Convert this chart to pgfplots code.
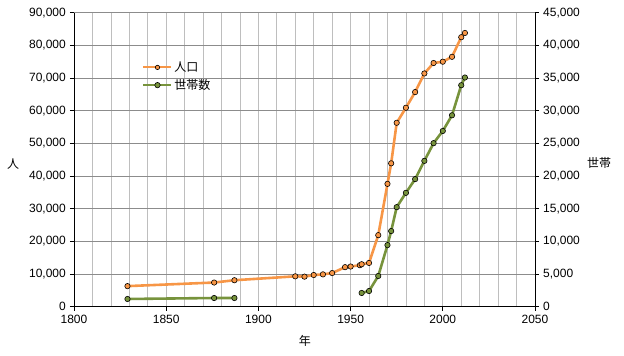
\documentclass[border=0pt]{standalone}
\usepackage{fontspec}
\setmainfont{Liberation Sans}
\newfontfamily\jp{Noto Sans CJK JP}
\usepackage{pgfplots}
\pgfplotsset{compat=1.18}
\definecolor{popc}{HTML}{F79646}
\definecolor{hhc}{HTML}{77933C}
\definecolor{hgrid}{HTML}{8C8C8C}
\definecolor{vgrid}{HTML}{BEBEBE}
\begin{document}
\fontsize{12bp}{14bp}\selectfont
\begin{tikzpicture}
\useasboundingbox (-74bp,-49.3bp) rectangle (550bp,306.7bp);
\pgfplotsset{
  common/.style={
    at={(0,0)}, anchor=south west, scale only axis,
    width=461bp, height=294bp,
    xmin=1800, xmax=2050,
    tick align=outside,
    major tick length=4bp, minor tick length=0pt,
    axis line style={-, black, line width=0.8bp},
    every tick/.style={black, line width=0.8bp},
    /pgf/number format/assume math mode=true,
    tick label style={font=\fontsize{12bp}{14bp}\selectfont},
    scaled ticks=false,
    yticklabel style={/pgf/number format/.cd, fixed, 1000 sep={,}},
    xticklabel style={/pgf/number format/.cd, 1000 sep={}},
    unbounded coords=jump,
  },
  popstyle/.style={popc, line width=2.6bp, mark=*, mark size=2.7bp,
    mark options={fill=popc, draw=black, line width=0.6bp}},
  hhstyle/.style={hhc, line width=2.6bp, mark=*, mark size=2.7bp,
    mark options={fill=hhc, draw=black, line width=0.6bp}},
}
\begin{axis}[common,
  axis x line*=bottom, axis y line*=left,
  ymin=0, ymax=90000, ytick distance=10000,
  xtick={1800,1850,...,2050},
  minor xtick={1810,1820,1830,1840,1860,1870,1880,1890,1910,1920,1930,1940,1960,1970,1980,1990,2010,2020,2030,2040},
  xmajorgrids, xminorgrids, ymajorgrids,
  major x grid style={vgrid, line width=0.75bp},
  minor x grid style={vgrid, line width=0.75bp},
  major y grid style={hgrid, line width=0.75bp},
  xlabel={\jp 年},
  xlabel style={at={(axis description cs:0.501,-0.117)}, anchor=center},
  ylabel={\jp 人},
  ylabel style={rotate=-90, at={(axis description cs:-0.132,0.485)}, anchor=center},
]
\addplot[popstyle] coordinates {
(1829,6300) (1876,7400) (1887,8100) (1920,9300) (1925,9200) (1930,9700)
(1935,9900) (1940,10300) (1947,12100) (1950,12300) (1955,12700) (1956,13000)
(1960,13400) (1965,21900) (1970,37600) (1972,43900) (1975,56300) (1980,60900)
(1985,65700) (1990,71400) (1995,74600) (2000,75000) (2005,76500) (2010,82500)
(2012,83800)};
\end{axis}
\begin{axis}[common,
  axis x line=none, axis y line*=right,
  ymin=0, ymax=45000, ytick distance=5000,
  ylabel={\jp 世帯},
  ylabel style={rotate=-90, at={(axis description cs:1.139,0.49)}, anchor=center},
  legend style={draw=none, fill=none, at={(0.141,0.846)}, anchor=north west,
    font=\jp\fontsize{12bp}{14bp}\selectfont, row sep=3bp,
    nodes={inner sep=1.5bp}},
  legend cell align=left,
  legend image code/.code={\draw[mark repeat=2,mark phase=2,#1] plot coordinates {(0bp,0bp)(14bp,0bp)(28bp,0bp)};},
]
\addlegendimage{popstyle, line width=2bp, mark size=2.2bp}
\addlegendentry{人口}
\addplot[hhstyle] coordinates {
(1829,1180) (1876,1330) (1887,1330) (1920,nan)
(1956,2100) (1960,2400) (1965,4700) (1970,9430) (1972,11580) (1975,15240)
(1980,17430) (1985,19530) (1990,22320) (1995,25030) (2000,26900) (2005,29300)
(2010,33900) (2012,35080)};
\addlegendentry{世帯数}
\end{axis}
\end{tikzpicture}
\end{document}
